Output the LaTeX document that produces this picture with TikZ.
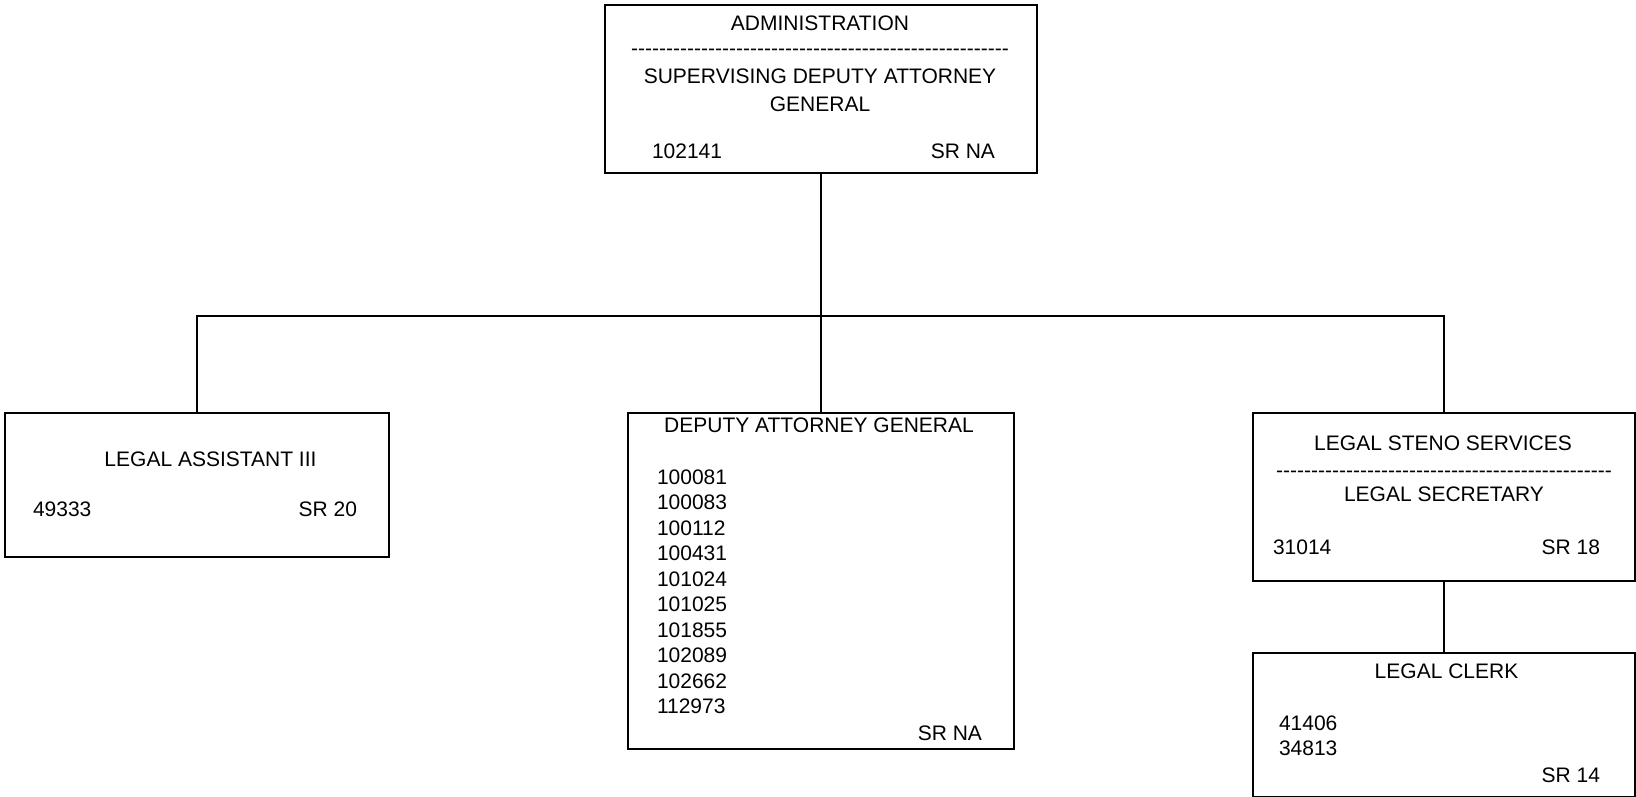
\documentclass[tikz,border=0pt]{standalone}
\usepackage{fontspec}
\setmainfont{Liberation Sans}
\usepackage{tikz}
\usetikzlibrary{positioning}

% row of hyphens, kept apart so they never join into dashes
\newcommand\hyrow[1]{\foreach \h in {1,...,#1}{-\kern0pt}}

\begin{document}
\begin{tikzpicture}[x=1pt,y=-1pt,line width=2pt,
  every node/.style={font=\fontsize{21}{25.5}\selectfont,inner sep=0pt},
  post/.style={draw,anchor=north west,minimum width=#1}]
\useasboundingbox (0,0) rectangle (1636,797);

% boxes
\node[post=432pt,minimum height=168pt] (admin) at (604,4) {};
\node[post=384pt,minimum height=144pt] (assist) at (4,412) {};
\node[post=386pt,minimum height=336pt] (deputy) at (627,412) {};
\node[post=382pt,minimum height=168pt] (steno) at (1252,412) {};
\node[post=382pt,minimum height=144pt] (clerk) at (1252,652) {};

% texts (multi-line nodes sit on their last line)
\node[anchor=base] (adminname) at (820,30.5) {ADMINISTRATION};
\node[anchor=base] (admindash) at (820,56) {\hyrow{54}};
\node[anchor=base,align=center,font=\fontsize{21}{28}\selectfont] (admintitle) at (820,111.5) {SUPERVISING DEPUTY ATTORNEY\\GENERAL};
\node[anchor=base west] (admincode) at (651,158) {102141};
\node[anchor=base east] (admingrade) at (996,158) {SR NA};

\node[anchor=base] (assistname) at (210.5,466.5) {LEGAL ASSISTANT III};
\node[anchor=base west] (assistcode) at (32,516.5) {49333};
\node[anchor=base east] (assistgrade) at (358,516.5) {SR 20};

\node[anchor=base] (deputyname) at (819,432.5) {DEPUTY ATTORNEY GENERAL};
\node[anchor=base west,align=left] (deputycodes) at (656,713.5) {100081\\100083\\100112\\100431\\101024\\101025\\101855\\102089\\102662\\112973};
\node[anchor=base east] (deputygrade) at (983,740.5) {SR NA};

\node[anchor=base] (stenoname) at (1443,450.5) {LEGAL STENO SERVICES};
\node[anchor=base] (stenodash) at (1444,477) {\hyrow{48}};
\node[anchor=base] (stenotitle) at (1444,501.5) {LEGAL SECRETARY};
\node[anchor=base west] (stenocode) at (1272,554.5) {31014};
\node[anchor=base east] (stenograde) at (1601,554.5) {SR 18};

\node[anchor=base] (clerkname) at (1446.5,678.5) {LEGAL CLERK};
\node[anchor=base west,align=left,font=\fontsize{21}{25}\selectfont] (clerkcodes) at (1278,755) {41406\\34813};
\node[anchor=base east] (clerkgrade) at (1601,782.5) {SR 14};

% connectors
\coordinate (bus) at (820,316);
\draw (admin) -- (deputy);
\draw (assist.north) |- (steno.north |- bus) -- (steno.north);
\draw (steno) -- (clerk);
\end{tikzpicture}
\end{document}
